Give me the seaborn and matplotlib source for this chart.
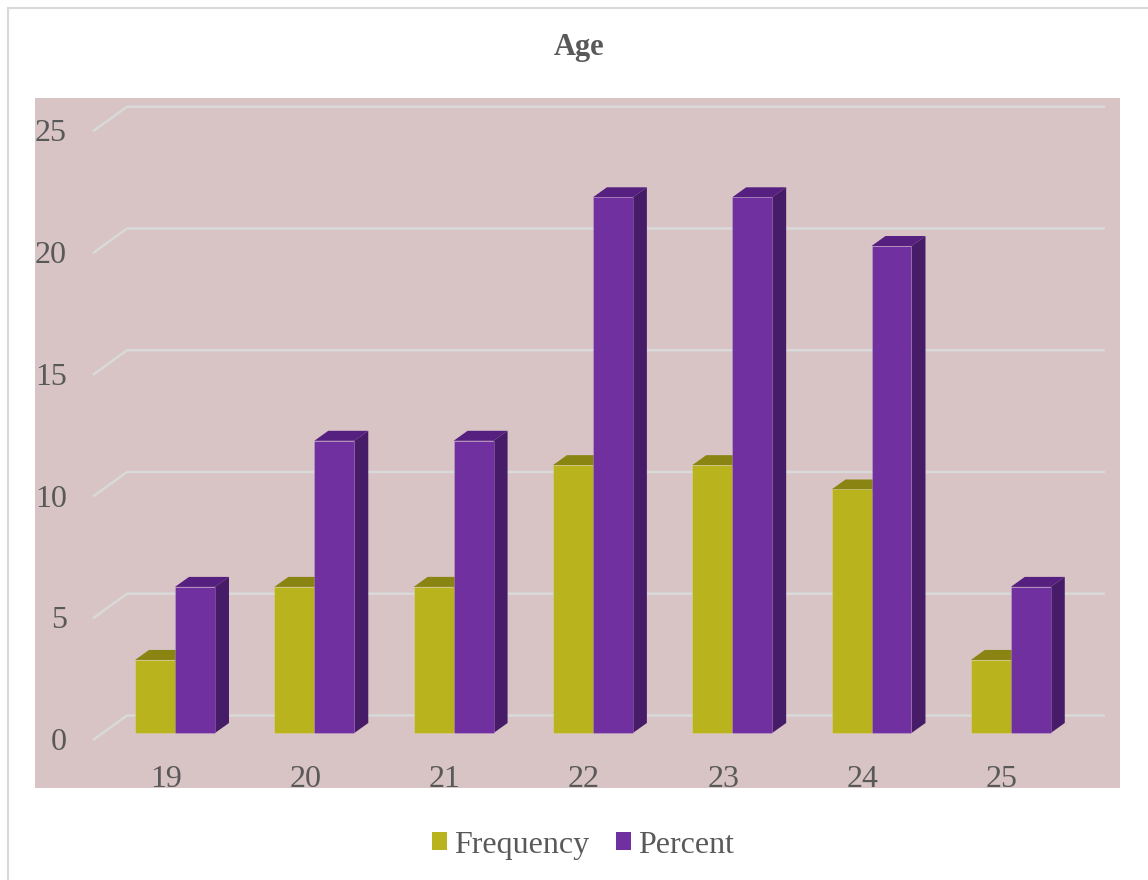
import numpy as np
import pandas as pd
import matplotlib
matplotlib.use('Agg')
import matplotlib.pyplot as plt
from matplotlib.patches import Polygon, Patch, Rectangle
import seaborn as sns

# データ
ages = ['19', '20', '21', '22', '23', '24', '25']
frequency = [3, 6, 6, 11, 11, 10, 3]
percent = [6, 12, 12, 22, 22, 20, 6]
y_ticks = [0, 5, 10, 15, 20, 25]

df = pd.DataFrame({
    'age': ages * 2,
    'measure': ['Frequency'] * len(ages) + ['Percent'] * len(ages),
    'value': frequency + percent,
})

sns.set_style('white')
plt.rcParams['font.family'] = ['Liberation Serif', 'DejaVu Serif']

front_colors = ['#B9B31E', '#7030A0']
top_colors = ['#8A8513', '#55207F']
side_colors = ['#6E6A0F', '#461B67']
text_color = '#595959'
grid_color = '#D9D9D9'

fig = plt.figure(figsize=(11.48, 8.8), dpi=100)
# 外枠
fig.patches.append(Rectangle((8 / 1148, -0.1), 1.2, 1.1 - 8 / 880,
                             transform=fig.transFigure, fill=False,
                             edgecolor=grid_color, lw=1.5))

ax = fig.add_axes([35 / 1148, 1 - 788 / 880, (1120 - 35) / 1148, (788 - 98) / 880])
ax.set_facecolor('#D8C4C5')

sns.barplot(data=df, x='age', y='value', hue='measure', palette=front_colors,
            saturation=1, width=0.574, legend=False, ax=ax, zorder=4,
            edgecolor=(1, 1, 1, 0.2), linewidth=0.6)
bars = list(ax.patches)

px_x = 139.3   # 1カテゴリあたりのピクセル
px_y = 24.35   # 1単位あたりのピクセル
ax.set_xlim((35 - 175) / px_x, (1120 - 175) / px_x)
ax.set_ylim(-(788 - 733) / px_y, (733 - 98) / px_y)

# 3D風の奥行き
ddx = 14 / px_x
ddy = 10 / px_y
for i, bar in enumerate(bars):
    k = i // len(ages)
    x0 = bar.get_x()
    w = bar.get_width()
    h = bar.get_height()
    top = Polygon([(x0, h), (x0 + w, h), (x0 + w + ddx, h + ddy), (x0 + ddx, h + ddy)],
                  closed=True, facecolor=top_colors[k], edgecolor='none', zorder=3)
    side = Polygon([(x0 + w, 0), (x0 + w + ddx, ddy), (x0 + w + ddx, h + ddy), (x0 + w, h)],
                   closed=True, facecolor=side_colors[k], edgecolor='none', zorder=3)
    ax.add_patch(top)
    ax.add_patch(side)

# グリッド線（奥の壁＋斜めの線）
back_dy = 0.72
front_dy = -0.29
x_front = (93 - 175) / px_x
x_back = (127 - 175) / px_x
x_end = (1105 - 175) / px_x
for v in y_ticks:
    ax.plot([x_front, x_back, x_end], [v + front_dy, v + back_dy, v + back_dy],
            color=grid_color, lw=1.8, zorder=1, solid_capstyle='butt')
    ax.text((67 - 175) / px_x, v - 0.4, str(v), ha='right', va='center',
            fontsize=23, color=text_color)

for i, a in enumerate(ages):
    ax.text(i - 9 / px_x, -(779 - 733) / px_y, a, ha='center', va='center',
            fontsize=23, color=text_color)

ax.set_xticks([])
ax.set_yticks([])
ax.set_xlabel('')
ax.set_ylabel('')
for s in ax.spines.values():
    s.set_visible(False)

fig.text(579 / 1148, 1 - 48 / 880, 'Age', ha='center', va='center',
         fontsize=22, fontweight='bold', color=text_color)

handles = [Patch(facecolor=c, edgecolor='none') for c in front_colors]
fig.legend(handles, ['Frequency', 'Percent'], loc='center',
           bbox_to_anchor=(583 / 1148, 1 - 845 / 880), ncol=2, frameon=False,
           fontsize=23, handlelength=0.48, handleheight=0.48, handletextpad=0.2,
           columnspacing=0.85, labelcolor=text_color)

fig.savefig('out.png', dpi=100, facecolor='white')
